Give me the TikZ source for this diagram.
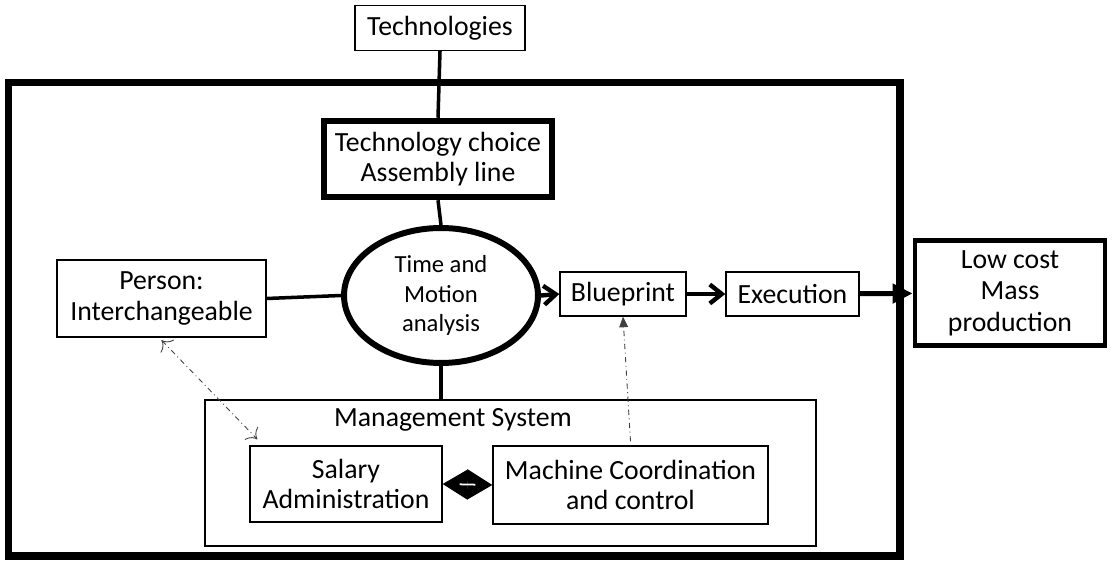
\documentclass[tikz,border=0pt]{standalone}
\usepackage{fontspec}
\setmainfont{Carlito}
\usepackage{tikz}
\usetikzlibrary{arrows.meta,shapes.geometric}

\begin{document}
\begin{tikzpicture}[
    x=0.02cm, y=-0.02cm,
    every node/.style={font=\fontsize{15.8}{17.5}\selectfont, align=center, inner sep=0pt},
    plainbox/.style={rectangle, draw, line width=0.8pt},
    heavybox/.style={rectangle, draw, line width=3.4pt},
    bigoval/.style={ellipse, draw, line width=3.4pt, minimum width=3.88cm, minimum height=2.7cm, font=\fontsize{14}{16.8}\selectfont},
    link/.style={line width=2pt},
    flow/.style={line width=2.5pt, -{Straight Barb[length=0.24cm, width=0.38cm]}},
    bigflow/.style={line width=2.8pt, -{Triangle[length=0.4cm, width=0.38cm]}},
    hint/.style={black!75, line width=0.5pt, dash dot},
    pair/.style={line width=1pt, {Triangle[length=0.5cm, width=0.6cm]}-{Triangle[length=0.5cm, width=0.6cm]}}
]
\useasboundingbox (0,0) rectangle (1113,563);

% Outer frame
\draw[line width=4pt] (8.5,82.5) rectangle (900,556);

% Top row
\node[plainbox, minimum width=3.4cm, minimum height=0.9cm] (tech) at (440,28) {Technologies};
\node[heavybox, minimum width=4.57cm, minimum height=1.53cm] (choice) at (438,159) {Technology choice\\Assembly line};

% Middle row
\node[bigoval] (tma) at (441,295.5) {Time and\\Motion\\analysis};
\node[plainbox, minimum width=4.18cm, minimum height=1.54cm] (person) at (161.5,298.5) {Person:\\Interchangeable};
\node[plainbox, minimum width=2.52cm, minimum height=0.88cm] (blueprint) at (623,294) {Blueprint};
\node[plainbox, minimum width=2.66cm, minimum height=0.88cm] (execution) at (792.5,294) {Execution};
\node[heavybox, line width=2.8pt, minimum width=3.8cm, minimum height=2.1cm, font=\fontsize{15.8}{18}\selectfont] (lowcost) at (1010,293) {Low cost\\Mass\\production};

% Management system
\node[plainbox, minimum width=12.22cm, minimum height=2.92cm] (mgmt) at (510.5,473) {};
\node (mgmttitle) at (453,420) {Management System};
\node[plainbox, minimum width=3.84cm, minimum height=1.52cm] (salary) at (346,484) {Salary\\Administration};
\node[plainbox, minimum width=5.5cm, minimum height=1.56cm] (machine) at (630.5,485) {Machine Coordination\\and control};

% Solid links
\draw[link] (tech.south) -- (choice.north);
\draw[link] (choice.south) -- (tma.north);
\draw[link] (person.east) -- (tma.west);
\draw[link] (tma.south) -- (tma.south |- mgmt.north);

% Main flow
\draw[flow] (tma.east) -- (blueprint.west);
\draw[flow] (blueprint) -- (execution);
\draw[bigflow] (execution) -- (lowcost);

% Salary and machine coupling
\draw[pair] (salary.east) -- (machine.west);
\draw[white, line width=1pt, shorten <=0.34cm, shorten >=0.34cm] (salary.east) -- (machine.west);

% Dash-dot hints
\draw[hint, {To[length=5pt]}-{To[length=5pt]}] ([yshift=-0.05cm]person.south) -- ([xshift=0.16cm, yshift=0.12cm]salary.north west);
\draw[hint, -{Triangle[length=6pt, width=5pt]}] ([yshift=0.08cm]machine.north) -- (blueprint.south);

\end{tikzpicture}
\end{document}
